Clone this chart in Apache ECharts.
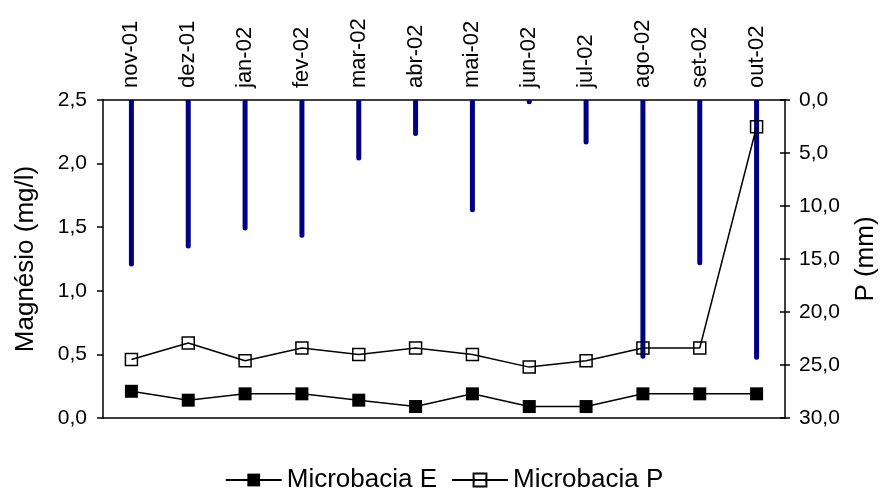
<!DOCTYPE html>
<html>
<head>
<meta charset="utf-8">
<script src="https://cdn.jsdelivr.net/npm/echarts@6/dist/echarts.min.js"></script>
<style>
  html, body { margin: 0; padding: 0; background: #fff; }
  #chart { width: 888px; height: 499px; }
</style>
</head>
<body>
<div id="chart"></div>
<script>
// Months of the monitoring period
const months = ['nov-01', 'dez-01', 'jan-02', 'fev-02', 'mar-02', 'abr-02',
                'mai-02', 'jun-02', 'jul-02', 'ago-02', 'set-02', 'out-02'];

// Magnesium concentration (mg/l) for each watershed
const microbaciaE = [0.21, 0.14, 0.19, 0.19, 0.14, 0.09, 0.19, 0.09, 0.09, 0.19, 0.19, 0.19];
const microbaciaP = [0.46, 0.59, 0.45, 0.55, 0.50, 0.55, 0.50, 0.40, 0.45, 0.55, 0.55, 2.29];

// Precipitation (mm), drawn hanging from the top on the inverted right axis
const precipitation = [15.7, 14.0, 12.3, 13.0, 5.7, 3.4, 10.6, 0.4, 4.2, 24.4, 15.6, 24.5];

const FONT = 'Liberation Sans, Arial, sans-serif';
const comma = v => v.toFixed(1).replace('.', ',');

const chart = echarts.init(document.getElementById('chart'));
chart.setOption({
  animation: false,
  backgroundColor: '#fff',
  textStyle: { fontFamily: FONT, color: '#000' },
  grid: { left: 103, right: 103, top: 100, bottom: 81 },
  legend: {
    bottom: 1,
    left: 'center',
    itemWidth: 56,
    itemHeight: 16,
    itemGap: 14,
    textStyle: { fontFamily: FONT, fontSize: 26, color: '#000' },
    data: ['Microbacia E', 'Microbacia P']
  },
  xAxis: [
    {
      type: 'category',
      position: 'top',
      data: months,
      axisLine: { lineStyle: { color: '#000', width: 1.5 } },
      axisTick: { show: false },
      axisLabel: { rotate: 90, margin: 12, fontSize: 22, color: '#000', fontFamily: FONT }
    },
    {
      type: 'category',
      position: 'bottom',
      data: months,
      axisLine: { lineStyle: { color: '#000', width: 1.5 } },
      axisTick: { show: false },
      axisLabel: { show: false }
    }
  ],
  yAxis: [
    {
      type: 'value',
      position: 'left',
      min: 0, max: 2.5, interval: 0.5,
      name: 'Magnésio (mg/l)',
      nameLocation: 'middle',
      nameGap: 64,
      nameTextStyle: { fontSize: 26, color: '#000', fontFamily: FONT },
      axisLine: { show: true, lineStyle: { color: '#000', width: 1.5 } },
      axisTick: { show: true, length: 6, lineStyle: { color: '#000', width: 1.5 } },
      axisLabel: { fontSize: 21, color: '#000', margin: 16, formatter: comma },
      splitLine: { show: false }
    },
    {
      type: 'value',
      position: 'right',
      inverse: true,
      min: 0, max: 30, interval: 5,
      name: 'P (mm)',
      nameLocation: 'middle',
      nameGap: 68,
      nameRotate: 90,
      nameTextStyle: { fontSize: 26, color: '#000', fontFamily: FONT },
      axisLine: { show: true, lineStyle: { color: '#000', width: 1.5 } },
      axisTick: { show: true, length: 5, lineStyle: { color: '#000', width: 1.5 } },
      axisLabel: { fontSize: 21, color: '#000', margin: 14, formatter: comma },
      splitLine: { show: false }
    },
    {
      // inner half of the crossing ticks on the right axis
      type: 'value',
      position: 'right',
      inverse: true,
      min: 0, max: 30, interval: 5,
      axisLine: { show: false },
      axisTick: { show: true, inside: true, length: 5, lineStyle: { color: '#000', width: 1.5 } },
      axisLabel: { show: false },
      splitLine: { show: false }
    }
  ],
  series: [
    {
      name: 'P',
      type: 'bar',
      xAxisIndex: 0,
      yAxisIndex: 1,
      barWidth: 5,
      data: precipitation,
      itemStyle: { color: '#000080', borderRadius: [0, 0, 3, 3] },
      z: 1
    },
    {
      name: 'Microbacia E',
      type: 'line',
      xAxisIndex: 0,
      yAxisIndex: 0,
      data: microbaciaE,
      symbol: 'rect',
      symbolSize: 13,
      itemStyle: { color: '#000' },
      lineStyle: { color: '#000', width: 1.5 },
      z: 3
    },
    {
      name: 'Microbacia P',
      type: 'line',
      xAxisIndex: 0,
      yAxisIndex: 0,
      data: microbaciaP,
      symbol: 'rect',
      symbolSize: 12,
      showAllSymbol: true,
      itemStyle: { color: 'transparent', borderColor: '#000', borderWidth: 1.5 },
      lineStyle: { color: '#000', width: 1.5 },
      z: 3
    }
  ]
});
</script>
</body>
</html>
